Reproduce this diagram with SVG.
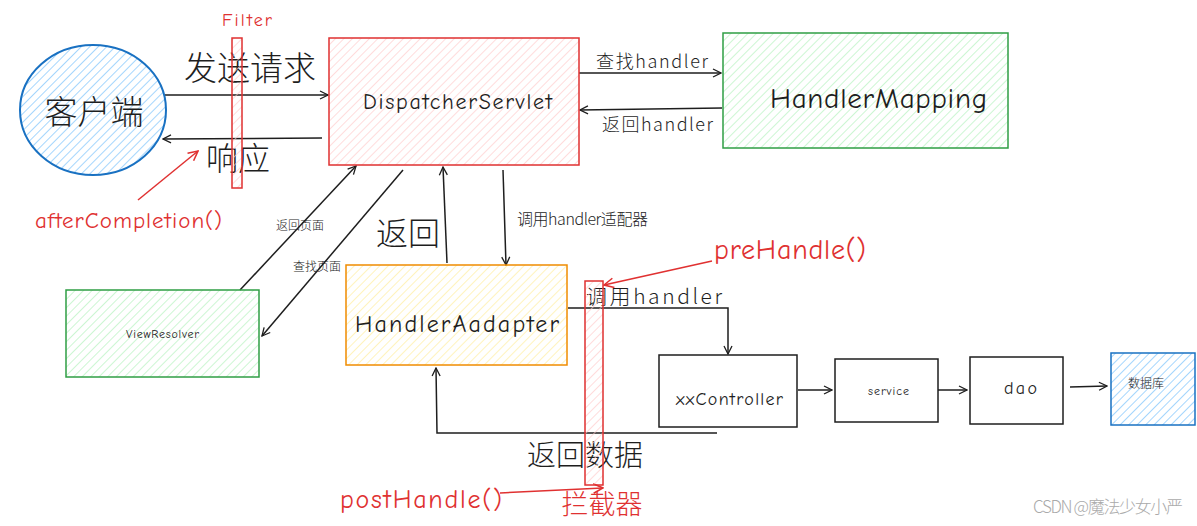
<svg xmlns="http://www.w3.org/2000/svg" width="1197" height="526" viewBox="0 0 1197 526">
<style>
.hand{font-family:"Comic Neue","Liberation Sans","Noto Sans CJK SC",sans-serif;}
.cjk{font-family:"Noto Sans CJK SC","Liberation Sans",sans-serif;font-weight:300;}
.blk{fill:#1e1e1e;}
.red{fill:#e03131;}
.ln{stroke:#1e1e1e;stroke-width:1.5;fill:none;}
.rl{stroke:#e03131;stroke-width:1.5;fill:none;}
</style>
<defs>
<pattern id="hb" width="6" height="6" patternUnits="userSpaceOnUse" patternTransform="rotate(45)"><line x1="0" y1="0" x2="0" y2="6" stroke="#74c0fc" stroke-width="1.3"/></pattern>
<pattern id="hr" width="6" height="6" patternUnits="userSpaceOnUse" patternTransform="rotate(45)"><line x1="0" y1="0" x2="0" y2="6" stroke="#ffc9c9" stroke-width="1.3"/></pattern>
<pattern id="hg" width="6" height="6" patternUnits="userSpaceOnUse" patternTransform="rotate(45)"><line x1="0" y1="0" x2="0" y2="6" stroke="#b2f2bb" stroke-width="1.3"/></pattern>
<pattern id="hy" width="6" height="6" patternUnits="userSpaceOnUse" patternTransform="rotate(45)"><line x1="0" y1="0" x2="0" y2="6" stroke="#ffec99" stroke-width="1.3"/></pattern>
<marker id="ah" viewBox="0 0 10 10" refX="9" refY="5" markerWidth="10" markerHeight="10" markerUnits="userSpaceOnUse" orient="auto"><path d="M1,1 L9,5 L1,9" fill="none" stroke="#1e1e1e" stroke-width="1.3"/></marker>
<marker id="ar" viewBox="0 0 10 10" refX="9" refY="5" markerWidth="12" markerHeight="12" markerUnits="userSpaceOnUse" orient="auto"><path d="M1,1 L9,5 L1,9" fill="none" stroke="#e03131" stroke-width="1.3"/></marker>
</defs>
<rect width="1197" height="526" fill="#ffffff"/>

<g id="connectors">
<line class="ln" x1="165" y1="95" x2="328" y2="95" marker-end="url(#ah)"/>
<line class="ln" x1="322" y1="138" x2="163" y2="139" marker-end="url(#ah)"/>
<line class="ln" x1="579" y1="73" x2="721" y2="73" marker-end="url(#ah)"/>
<line class="ln" x1="722" y1="108" x2="580" y2="110" marker-end="url(#ah)"/>
<line class="ln" x1="240" y1="290" x2="356" y2="166" marker-end="url(#ah)"/>
<line class="ln" x1="403" y1="170" x2="262" y2="336" marker-end="url(#ah)"/>
<line class="ln" x1="447" y1="263" x2="443" y2="167" marker-end="url(#ah)"/>
<line class="ln" x1="503" y1="170" x2="506" y2="265" marker-end="url(#ah)"/>
<polyline class="ln" points="568,308 728,308 728,354" marker-end="url(#ah)"/>
<line class="ln" x1="798" y1="390" x2="832" y2="390" marker-end="url(#ah)"/>
<line class="ln" x1="938" y1="390" x2="967" y2="390" marker-end="url(#ah)"/>
<line class="ln" x1="1070" y1="387" x2="1107" y2="386" marker-end="url(#ah)"/>
<polyline class="ln" points="717,433 437,433 436,368" marker-end="url(#ah)"/>
<line class="rl" x1="138" y1="200" x2="198" y2="151" marker-end="url(#ar)"/>
<line class="rl" x1="712" y1="261" x2="604" y2="285" marker-end="url(#ar)"/>
<line class="rl" x1="500" y1="493" x2="603" y2="488" marker-end="url(#ar)"/>
<text class="cjk blk" x="250" y="80" font-size="33" text-anchor="middle">发送请求</text>
<text class="cjk blk" x="238" y="170" font-size="32" text-anchor="middle">响应</text>
<text class="cjk blk" x="596" y="68" font-size="18" textLength="112" lengthAdjust="spacing">查找handler</text>
<text class="cjk blk" x="602" y="131" font-size="18" textLength="111" lengthAdjust="spacing">返回handler</text>
<text class="cjk blk" x="300" y="230" font-size="12" text-anchor="middle">返回页面</text>
<text class="cjk blk" x="317" y="271" font-size="12" text-anchor="middle">查找页面</text>
<text class="cjk blk" x="408" y="245" font-size="32" text-anchor="middle">返回</text>
<text class="cjk blk" x="517" y="225" font-size="16" textLength="131" lengthAdjust="spacing">调用handler适配器</text>
<text class="cjk blk" x="586" y="304" font-size="21" textLength="136" lengthAdjust="spacing">调用handler</text>
<text class="cjk blk" x="585" y="466" font-size="29" text-anchor="middle">返回数据</text>
</g>

<g id="client">
<ellipse cx="93" cy="110" rx="73" ry="65" fill="url(#hb)" stroke="#1971c2" stroke-width="2"/>
<text class="cjk blk" x="94" y="124" font-size="33" text-anchor="middle">客户端</text>
</g>

<g id="filter">
<rect x="232" y="38" width="10" height="150" fill="url(#hr)" stroke="#e03131" stroke-width="1.5"/>
<text class="hand red" x="222" y="26" font-size="18" textLength="50" lengthAdjust="spacing">Filter</text>
</g>

<g id="dispatcher">
<rect x="329" y="38" width="250" height="127" fill="url(#hr)" stroke="#e03131" stroke-width="1.5"/>
<text class="hand blk" x="363" y="109" font-size="22" textLength="189" lengthAdjust="spacing">DispatcherServlet</text>
</g>

<g id="handlerMapping">
<rect x="723" y="33" width="285" height="115" fill="url(#hg)" stroke="#2f9e44" stroke-width="1.5"/>
<text class="hand blk" x="770" y="108" font-size="29" textLength="217" lengthAdjust="spacing">HandlerMapping</text>
</g>

<g id="viewResolver">
<rect x="66" y="290" width="193" height="87" fill="url(#hg)" stroke="#2f9e44" stroke-width="1.5"/>
<text class="hand blk" x="126" y="338" font-size="12" textLength="73" lengthAdjust="spacing">ViewResolver</text>
</g>

<g id="handlerAdapter">
<rect x="346" y="265" width="221" height="100" fill="url(#hy)" stroke="#f08c00" stroke-width="1.5"/>
<text class="hand blk" x="355" y="332" font-size="24" textLength="204" lengthAdjust="spacing">HandlerAadapter</text>
</g>

<g id="interceptor">
<rect x="585" y="281" width="18" height="204" fill="url(#hr)" stroke="#e03131" stroke-width="1.5"/>
<text class="cjk red" x="602" y="514" font-size="27" text-anchor="middle">拦截器</text>
</g>

<g id="controller">
<rect x="659" y="355" width="138" height="72" fill="#ffffff" stroke="#1e1e1e" stroke-width="1.5"/>
<text class="hand blk" x="676" y="405" font-size="18" textLength="107" lengthAdjust="spacing">xxController</text>
</g>

<g id="service">
<rect x="835" y="359" width="103" height="63" fill="#ffffff" stroke="#1e1e1e" stroke-width="1.5"/>
<text class="hand blk" x="868" y="395" font-size="12" textLength="41" lengthAdjust="spacing">service</text>
</g>

<g id="dao">
<rect x="970" y="357" width="93" height="67" fill="#ffffff" stroke="#1e1e1e" stroke-width="1.5"/>
<text class="hand blk" x="1004" y="394" font-size="18" textLength="33" lengthAdjust="spacing">dao</text>
</g>

<g id="database">
<rect x="1111" y="353" width="84" height="72" fill="url(#hb)" stroke="#1971c2" stroke-width="1.5"/>
<text class="cjk blk" x="1146" y="388" font-size="12" text-anchor="middle">数据库</text>
</g>

<g id="labels">
<text class="hand red" x="35" y="228" font-size="23" textLength="187" lengthAdjust="spacing">afterCompletion()</text>
<text class="hand red" x="714" y="259" font-size="28" textLength="152" lengthAdjust="spacing">preHandle()</text>
<text class="hand red" x="340" y="508" font-size="26" textLength="162" lengthAdjust="spacing">postHandle()</text>
<text class="cjk" x="1033" y="513" font-size="17" fill="#aaaaaa" textLength="150" lengthAdjust="spacing">CSDN @魔法少女小严</text>
</g>
</svg>
